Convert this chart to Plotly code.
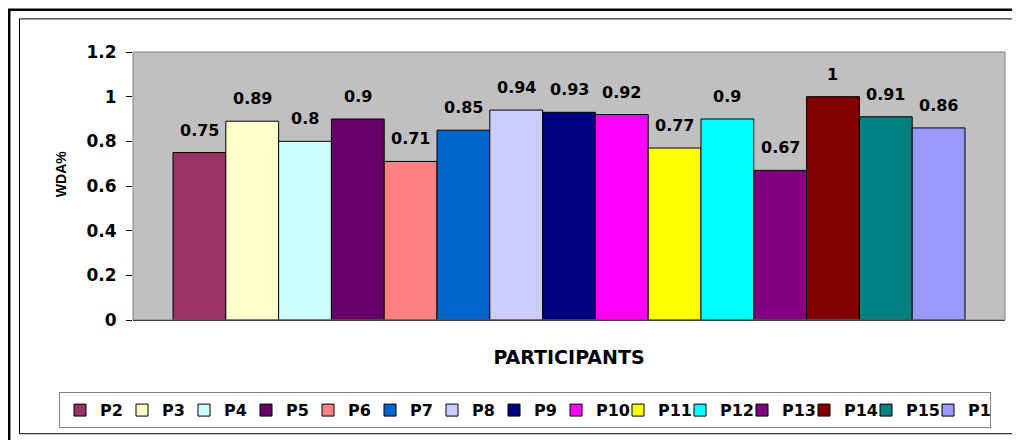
import plotly.graph_objects as go

participants = ["P2", "P3", "P4", "P5", "P6", "P7", "P8", "P9", "P10",
                "P11", "P12", "P13", "P14", "P15", "P1"]
wda = [0.75, 0.89, 0.8, 0.9, 0.71, 0.85, 0.94, 0.93, 0.92,
       0.77, 0.9, 0.67, 1.0, 0.91, 0.86]
colors = ["#993366", "#FFFFCC", "#CCFFFF", "#660066", "#FF8080", "#0066CC",
          "#CCCCFF", "#000080", "#FF00FF", "#FFFF00", "#00FFFF", "#800080",
          "#800000", "#008080", "#9999FF"]
y_ticks = [0, 0.2, 0.4, 0.6, 0.8, 1.0, 1.2]

FONT = "DejaVu Sans, Arial, sans-serif"
ARIAL = "Liberation Sans, Arial, sans-serif"
OFF = 8  # page body margin
W, H = 1020 - OFF, 440 - OFF
L, T = 133 - OFF, 52 - OFF
PR, PB = 1005 - OFF, 323 - OFF
R, B = W - PR, H - PB
PW, PH = W - L - R, H - T - B


def px(x):
    """reference page x -> paper x"""
    return (x - OFF - L) / PW


def py(y):
    """reference page y -> paper y"""
    return (H - B - (y - OFF)) / PH


fig = go.Figure()
for name, val, col in zip(participants, wda, colors):
    fig.add_trace(go.Bar(
        x=[name], y=[val], name=name, width=1,
        marker=dict(color=col, line=dict(color="black", width=1)),
        hoverinfo="x+y",
    ))

for name, val in zip(participants, wda):
    fig.add_annotation(
        x=name, y=val, text=f"{val:g}", showarrow=False,
        yanchor="bottom", yshift=11,
        font=dict(family=FONT, size=16, color="black", weight="bold"),
    )

# y axis title
fig.add_annotation(
    x=px(61), y=py(175.5), xref="paper", yref="paper", text="WDA%",
    textangle=-90, showarrow=False, xanchor="center", yanchor="middle",
    font=dict(family=ARIAL, size=14, color="black", weight="bold"),
)

shapes = [
    dict(type="rect", xref="paper", yref="paper", x0=0, x1=1, y0=0, y1=1,
         line=dict(color="#808080", width=1), layer="above"),
    dict(type="rect", xref="paper", yref="paper",
         x0=px(9.2), x1=px(1040), y0=py(9.2), y1=py(460),
         line=dict(color="black", width=2.5)),
    dict(type="rect", xref="paper", yref="paper",
         x0=px(19.5), x1=px(1040), y0=py(18.5), y1=py(438),
         line=dict(color="black", width=1)),
]

fig.update_layout(
    width=W, height=H,
    margin=dict(l=L, r=R, t=T, b=B),
    paper_bgcolor="white",
    plot_bgcolor="#C0C0C0",
    barmode="overlay",
    font=dict(family=FONT, size=17, color="black", weight="bold"),
    shapes=shapes,
    showlegend=True,
    legend=dict(
        orientation="h", x=px(59), y=py(396), xanchor="left", yanchor="top",
        bgcolor="white", bordercolor="#808080", borderwidth=1,
        font=dict(family=FONT, size=16, color="black", weight="bold"),
        entrywidth=17, entrywidthmode="pixels",
        traceorder="normal", itemclick=False, itemdoubleclick=False,
    ),
    xaxis=dict(
        type="category", categoryorder="array", categoryarray=participants,
        range=[-1.258, 15.258], showticklabels=False, ticks="",
        showgrid=False, zeroline=False,
        showline=True, linecolor="black", linewidth=1,
        title=dict(text="PARTICIPANTS", standoff=30,
                   font=dict(family=FONT, size=19, color="black", weight="bold")),
        fixedrange=True,
    ),
    yaxis=dict(
        range=[0, 1.2], tickvals=y_ticks, ticks="outside", ticklen=6,
        tickcolor="black", tickwidth=1, showgrid=False, zeroline=False,
        showline=False, ticklabelstandoff=6,
        tickfont=dict(family=FONT, size=17, color="black", weight="bold"),
        fixedrange=True,
    ),
)

fig.write_html("out.html")
